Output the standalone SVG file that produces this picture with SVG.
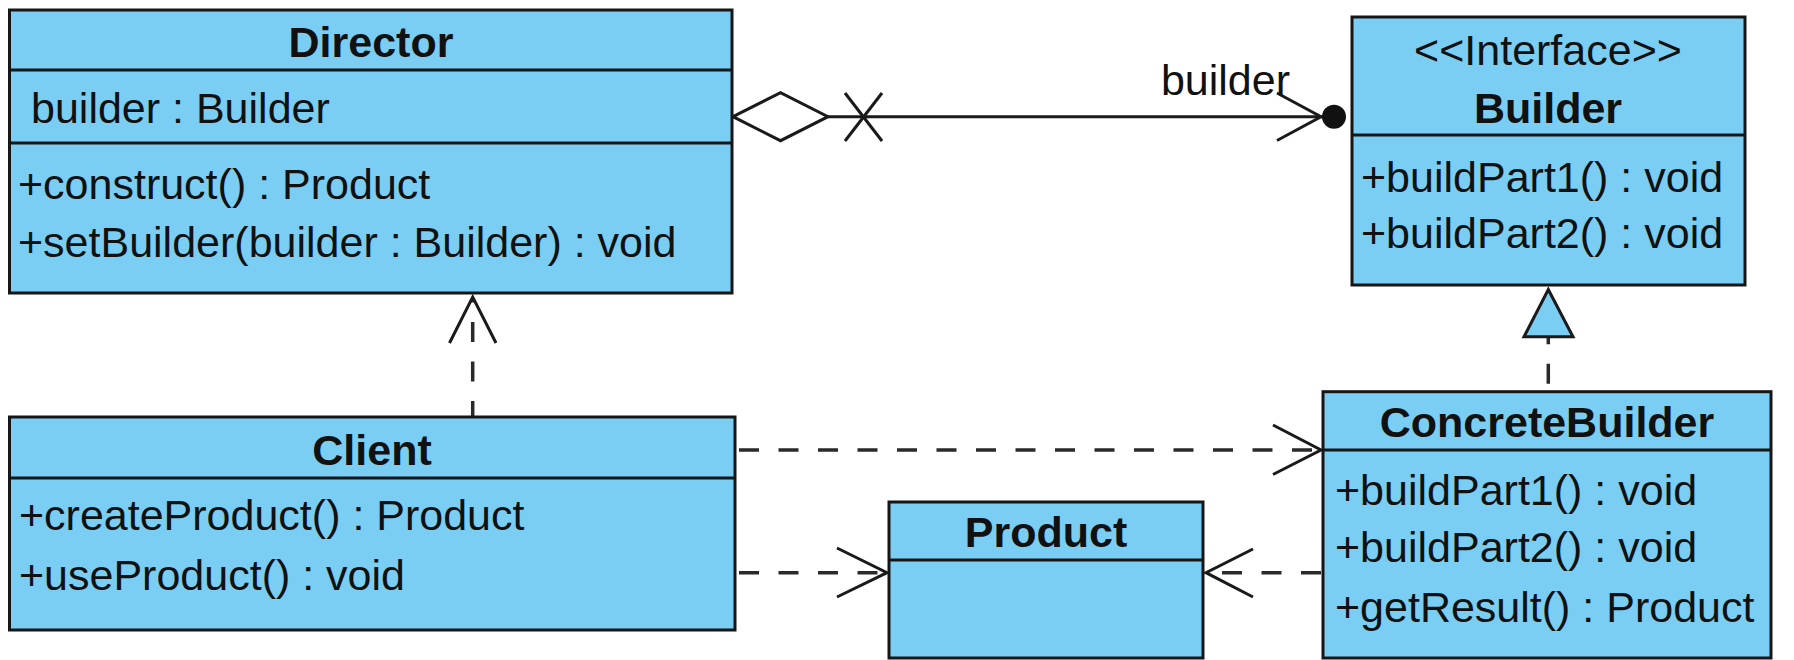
<svg xmlns="http://www.w3.org/2000/svg" width="1794" height="660" viewBox="0 0 1794 660">
<style>
.box{fill:#7ACEF3;stroke:#161616;stroke-width:3}
.sep{stroke:#161616;stroke-width:3}
.t{font-family:"Liberation Sans",Arial,sans-serif;font-size:43px;fill:#111}
.b{font-weight:bold;text-anchor:middle}
.c{text-anchor:middle}
.ln{stroke:#1a1a1a;stroke-width:3;fill:none}
.dash{stroke:#2a2a2a;stroke-width:3.5;fill:none;stroke-dasharray:20 19.5}
.head{stroke:#1a1a1a;stroke-width:3;fill:none;stroke-linejoin:miter}
</style>
<rect width="1794" height="660" fill="#ffffff"/>

<g id="connectors">
  <!-- Director aggregation to Builder -->
  <line class="ln" x1="828" y1="116.7" x2="1334" y2="116.7"/>
  <polygon points="733,116.7 780.5,92.7 828,116.7 780.5,140.7" fill="#ffffff" stroke="#1a1a1a" stroke-width="3"/>
  <line class="ln" x1="845" y1="93" x2="882" y2="141"/>
  <line class="ln" x1="882" y1="93" x2="845" y2="141"/>
  <polyline class="head" points="1277,93 1321,116.7 1277,140.5"/>
  <circle cx="1334" cy="116.7" r="12" fill="#111"/>
  <text class="t" x="1290" y="95" text-anchor="end">builder</text>

  <!-- Client to Director dependency -->
  <line class="dash" x1="472.7" y1="417" x2="472.7" y2="300" stroke-dashoffset="4"/>
  <polyline class="head" points="449.5,343 472.7,297 496,343"/>

  <!-- Client to ConcreteBuilder dependency -->
  <line class="dash" x1="735" y1="450" x2="1319" y2="450" stroke-dashoffset="-4"/>
  <polyline class="head" points="1273,425 1321,450 1273,474.5"/>

  <!-- Client to Product dependency -->
  <line class="dash" x1="735" y1="572.7" x2="885" y2="572.7" stroke-dashoffset="-4"/>
  <polyline class="head" points="837,548 887,572.7 837,597"/>

  <!-- ConcreteBuilder to Product dependency -->
  <line class="dash" x1="1323" y1="572.7" x2="1207" y2="572.7" stroke-dashoffset="-2"/>
  <polyline class="head" points="1253,549 1206,572.7 1253,597"/>

  <!-- ConcreteBuilder realizes Builder -->
  <line class="dash" x1="1548.3" y1="391.7" x2="1548.3" y2="337" stroke-dashoffset="-8"/>
  <polygon points="1548.3,289.5 1573,336.7 1524,336.7" fill="#7ACEF3" stroke="#1a1a1a" stroke-width="3" stroke-linejoin="miter"/>
</g>

<g id="Director">
  <rect class="box" x="9.5" y="10" width="722.5" height="283"/>
  <line class="sep" x1="9.5" y1="70" x2="732" y2="70"/>
  <line class="sep" x1="9.5" y1="143" x2="732" y2="143"/>
  <text class="t b" x="371" y="57">Director</text>
  <text class="t" x="31" y="123">builder : Builder</text>
  <text class="t" x="18" y="199">+construct() : Product</text>
  <text class="t" x="18" y="257">+setBuilder(builder : Builder) : void</text>
</g>

<g id="Builder">
  <rect class="box" x="1352" y="17" width="393" height="268"/>
  <line class="sep" x1="1352" y1="135" x2="1745" y2="135"/>
  <text class="t c" x="1548" y="65">&lt;&lt;Interface&gt;&gt;</text>
  <text class="t b" x="1548" y="122.5">Builder</text>
  <text class="t" x="1361" y="191.5">+buildPart1() : void</text>
  <text class="t" x="1361" y="248">+buildPart2() : void</text>
</g>

<g id="Client">
  <rect class="box" x="9.5" y="417" width="725.5" height="213"/>
  <line class="sep" x1="9.5" y1="478" x2="735" y2="478"/>
  <text class="t b" x="372" y="465">Client</text>
  <text class="t" x="19" y="530">+createProduct() : Product</text>
  <text class="t" x="19" y="590">+useProduct() : void</text>
</g>

<g id="Product">
  <rect class="box" x="889" y="502" width="314" height="156"/>
  <line class="sep" x1="889" y1="560" x2="1203" y2="560"/>
  <text class="t b" x="1046" y="546.5">Product</text>
</g>

<g id="ConcreteBuilder">
  <rect class="box" x="1323" y="391.7" width="448" height="266.3"/>
  <line class="sep" x1="1323" y1="450" x2="1771" y2="450"/>
  <text class="t b" x="1547" y="436.7">ConcreteBuilder</text>
  <text class="t" x="1335" y="505">+buildPart1() : void</text>
  <text class="t" x="1335" y="562">+buildPart2() : void</text>
  <text class="t" x="1335" y="621.5">+getResult() : Product</text>
</g>
</svg>
